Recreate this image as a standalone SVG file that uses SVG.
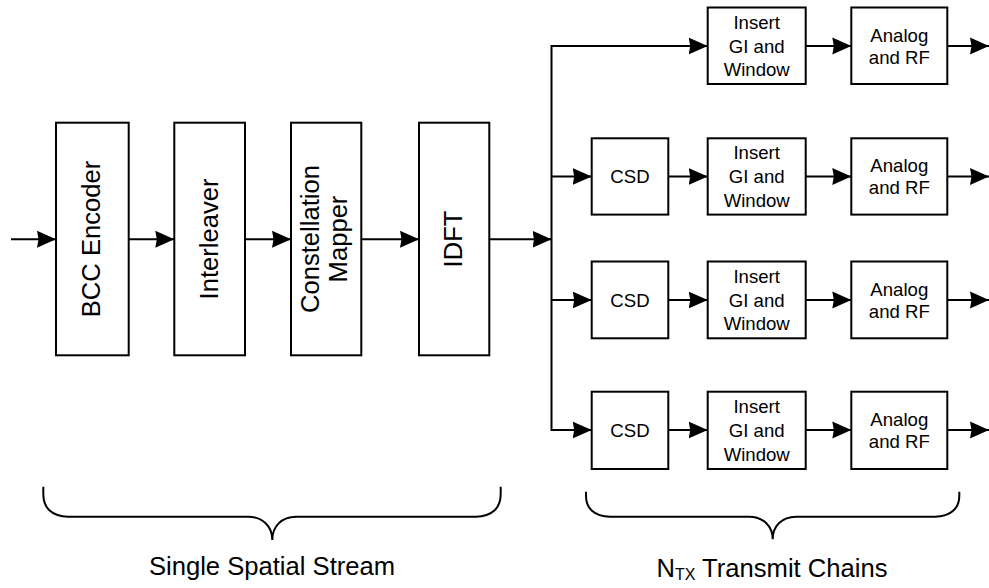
<svg xmlns="http://www.w3.org/2000/svg" width="989" height="588" viewBox="0 0 989 588">
<style>
.box{fill:#fff;stroke:#000;stroke-width:2}
.ln{fill:none;stroke:#000;stroke-width:2}
.big{font-family:"Liberation Sans",Arial,sans-serif;font-size:25.6px;fill:#000}
.sm{font-family:"Liberation Sans",Arial,sans-serif;font-size:18.6px;fill:#000;text-anchor:middle}
</style>
<defs>
<marker id="ah" markerWidth="20" markerHeight="18" refX="19" refY="9" orient="auto" markerUnits="userSpaceOnUse">
<path d="M0,0.5 L19,9 L0,17.5 L1.5,9 z" fill="#000"/>
</marker>
</defs>
<rect width="989" height="588" fill="#fff"/>

<g id="connectors">
<line class="ln" x1="11" y1="239.3" x2="56" y2="239.3" marker-end="url(#ah)"/>
<line class="ln" x1="128.7" y1="239.3" x2="174.3" y2="239.3" marker-end="url(#ah)"/>
<line class="ln" x1="245" y1="239.3" x2="291" y2="239.3" marker-end="url(#ah)"/>
<line class="ln" x1="361.3" y1="239.3" x2="419" y2="239.3" marker-end="url(#ah)"/>
<line class="ln" x1="489.3" y1="239.3" x2="551.5" y2="239.3" marker-end="url(#ah)"/>
<polyline class="ln" points="707.7,46 551.5,46 551.5,430 590.7,430"/>
<line class="ln" x1="551.5" y1="46" x2="707.7" y2="46" marker-end="url(#ah)"/>
<line class="ln" x1="551.5" y1="430" x2="591.7" y2="430" marker-end="url(#ah)"/>
<line class="ln" x1="551.5" y1="176.5" x2="591.7" y2="176.5" marker-end="url(#ah)"/>
<line class="ln" x1="551.5" y1="300" x2="591.7" y2="300" marker-end="url(#ah)"/>
<line class="ln" x1="668.3" y1="176.5" x2="707.7" y2="176.5" marker-end="url(#ah)"/>
<line class="ln" x1="668.3" y1="300" x2="707.7" y2="300" marker-end="url(#ah)"/>
<line class="ln" x1="668.3" y1="430" x2="707.7" y2="430" marker-end="url(#ah)"/>
<line class="ln" x1="805.7" y1="46" x2="851.3" y2="46" marker-end="url(#ah)"/>
<line class="ln" x1="805.7" y1="176.5" x2="851.3" y2="176.5" marker-end="url(#ah)"/>
<line class="ln" x1="805.7" y1="300" x2="851.3" y2="300" marker-end="url(#ah)"/>
<line class="ln" x1="805.7" y1="430" x2="851.3" y2="430" marker-end="url(#ah)"/>
<line class="ln" x1="947.3" y1="46" x2="989" y2="46" marker-end="url(#ah)"/>
<line class="ln" x1="947.3" y1="176.5" x2="989" y2="176.5" marker-end="url(#ah)"/>
<line class="ln" x1="947.3" y1="300" x2="989" y2="300" marker-end="url(#ah)"/>
<line class="ln" x1="947.3" y1="430" x2="989" y2="430" marker-end="url(#ah)"/>
</g>

<g id="bcc">
<rect class="box" x="56" y="122.7" width="72.7" height="232.6"/>
<text class="big" text-anchor="middle" transform="translate(100,239) rotate(-90)">BCC Encoder</text>
</g>
<g id="interleaver">
<rect class="box" x="174.3" y="122.7" width="70.7" height="232.6"/>
<text class="big" text-anchor="middle" transform="translate(218.3,239) rotate(-90)">Interleaver</text>
</g>
<g id="mapper">
<rect class="box" x="291" y="122.7" width="70.3" height="232.6"/>
<text class="big" text-anchor="middle" transform="translate(319,239) rotate(-90)">Constellation</text>
<text class="big" text-anchor="middle" transform="translate(346.5,239) rotate(-90)">Mapper</text>
</g>
<g id="idft">
<rect class="box" x="419" y="122.7" width="70.3" height="232.6"/>
<text class="big" text-anchor="middle" transform="translate(461.5,239) rotate(-90)">IDFT</text>
</g>

<g id="gi1">
<rect class="box" x="707.7" y="7.5" width="98" height="76.5"/>
<text class="sm" x="756.7" y="28.5">Insert</text>
<text class="sm" x="756.7" y="52.5">GI and</text>
<text class="sm" x="756.7" y="76">Window</text>
</g>
<g id="rf1">
<rect class="box" x="851.3" y="7.5" width="96" height="76.5"/>
<text class="sm" x="899.3" y="41.5">Analog</text>
<text class="sm" x="899.3" y="63.5">and RF</text>
</g>

<g id="csd2">
<rect class="box" x="591.7" y="138.3" width="76.6" height="76.3"/>
<text class="sm" x="630" y="183">CSD</text>
</g>
<g id="gi2">
<rect class="box" x="707.7" y="138.3" width="98" height="76.3"/>
<text class="sm" x="756.7" y="159">Insert</text>
<text class="sm" x="756.7" y="183">GI and</text>
<text class="sm" x="756.7" y="206.5">Window</text>
</g>
<g id="rf2">
<rect class="box" x="851.3" y="138.3" width="96" height="76.3"/>
<text class="sm" x="899.3" y="172">Analog</text>
<text class="sm" x="899.3" y="194">and RF</text>
</g>

<g id="csd3">
<rect class="box" x="591.7" y="261.5" width="76.6" height="76.8"/>
<text class="sm" x="630" y="306.5">CSD</text>
</g>
<g id="gi3">
<rect class="box" x="707.7" y="261.5" width="98" height="76.8"/>
<text class="sm" x="756.7" y="282.5">Insert</text>
<text class="sm" x="756.7" y="306.5">GI and</text>
<text class="sm" x="756.7" y="330">Window</text>
</g>
<g id="rf3">
<rect class="box" x="851.3" y="261.5" width="96" height="76.8"/>
<text class="sm" x="899.3" y="295.5">Analog</text>
<text class="sm" x="899.3" y="317.5">and RF</text>
</g>

<g id="csd4">
<rect class="box" x="591.7" y="391.7" width="76.6" height="77.3"/>
<text class="sm" x="630" y="437">CSD</text>
</g>
<g id="gi4">
<rect class="box" x="707.7" y="391.7" width="98" height="77.3"/>
<text class="sm" x="756.7" y="413">Insert</text>
<text class="sm" x="756.7" y="437">GI and</text>
<text class="sm" x="756.7" y="460.5">Window</text>
</g>
<g id="rf4">
<rect class="box" x="851.3" y="391.7" width="96" height="77.3"/>
<text class="sm" x="899.3" y="426">Analog</text>
<text class="sm" x="899.3" y="448">and RF</text>
</g>

<g id="brace-left">
<path class="ln" d="M43.3,486.7 L43.3,494 C43.3,508 52,516.7 68,516.7 L248,516.7 C262,516.7 272.3,526 272.3,540 C272.3,526 282,516.7 296,516.7 L476,516.7 C492,516.7 500.7,508 500.7,494 L500.7,486.7"/>
<text class="big" x="272" y="575" text-anchor="middle">Single Spatial Stream</text>
</g>
<g id="brace-right">
<path class="ln" d="M586,491.7 L586,496 C586,508 594,516.7 610,516.7 L749,516.7 C763,516.7 772.7,526 772.7,539.3 C772.7,526 782,516.7 796,516.7 L935,516.7 C951,516.7 959.3,508 959.3,496 L959.3,491.7"/>
<text class="big" x="772" y="576.5" text-anchor="middle">N<tspan font-size="16" dy="3">TX</tspan><tspan dy="-3"> Transmit Chains</tspan></text>
</g>
</svg>
